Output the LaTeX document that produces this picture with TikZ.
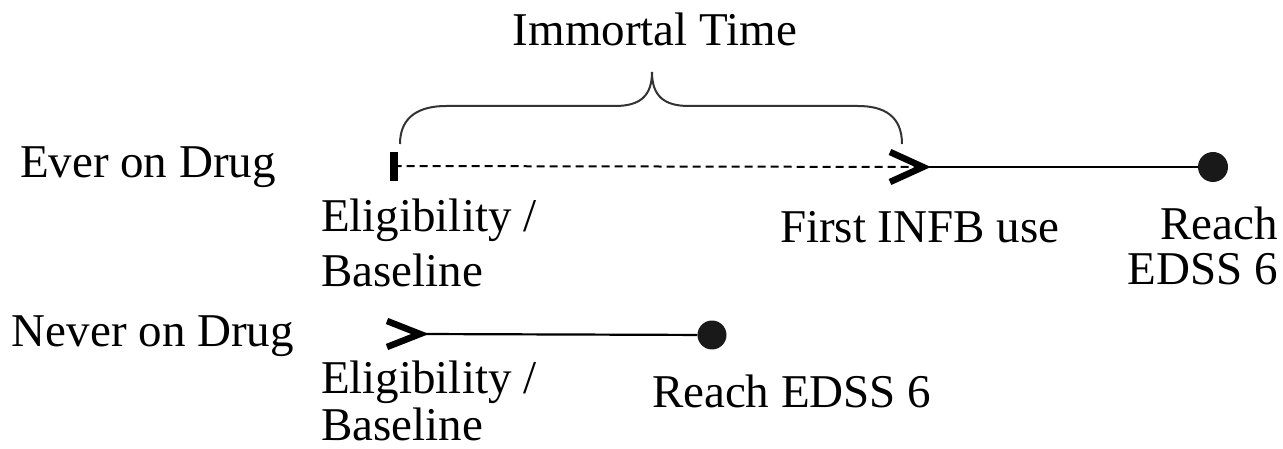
\documentclass[tikz,border=0pt]{standalone}
\usepackage{fontspec}
\setmainfont{Liberation Serif}
\usetikzlibrary{calc}
\begin{document}
\begin{tikzpicture}[x=1pt,y=-1pt,
  lbl/.style={inner sep=0pt,outer sep=0pt,font=\fontsize{47}{47}\selectfont},
  solidline/.style={line width=2.2pt,black},
  dashline/.style={line width=2pt,dash pattern=on 8pt off 5pt,black},
  chev/.style={line width=6.5pt,line join=miter,line cap=butt,black},
  endpt/.style={circle,fill=black!90,inner sep=0pt,minimum size=30pt},
  brace/.style={line width=2pt,black!80}]
\useasboundingbox (0,0) rectangle (1283,449);
% labels
\node[lbl,anchor=base] (imm) at (655,46) {Immortal Time};
\node[lbl,anchor=base west] (ever) at (20,178) {Ever on Drug};
\node[lbl,anchor=base west] (elig1) at (321,232) {Eligibility /};
\node[lbl,anchor=base west] (base1) at (321,287) {Baseline};
\node[lbl,anchor=base west] (first) at (780,243) {First INFB use};
\node[lbl,anchor=base east] (reach1) at (1278,240) {Reach};
\node[lbl,anchor=base east] (edss1) at (1278,284) {EDSS 6};
\node[lbl,anchor=base west] (never) at (12,346) {Never on Drug};
\node[lbl,anchor=base west] (elig2) at (321,393) {Eligibility /};
\node[lbl,anchor=base west] (base2) at (321,440) {Baseline};
\node[lbl,anchor=base west] (reach2) at (652,407) {Reach EDSS 6};
% upper timeline
\coordinate (t0) at (393.5,166);
\coordinate (t1) at (923,167);
\node[endpt] (t2) at (1213,167) {};
\draw[line width=8pt] ([yshift=-15pt]t0) -- ([yshift=14pt]t0);
\draw[dashline] (t0) -- (t1);
\draw[solidline] (t1) -- (t2);
\draw[chev] ([shift={(-33,-15)}]t1) -- (t1) -- ([shift={(-33,15)}]t1);
% brace
\draw[brace] (400,144) .. controls (400,116) and (420,106) .. (446,106) -- (615,106)
  .. controls (640,106) and (652,96) .. (652,72)
  .. controls (652,96) and (664,106) .. (689,106) -- (858,106)
  .. controls (884,106) and (902,116) .. (902,144);
% lower timeline
\coordinate (b0) at (420,334);
\node[endpt,minimum size=29pt] (b1) at (712,335) {};
\draw[solidline] (b0) -- (b1);
\draw[chev] ([shift={(-33,-13)}]b0) -- (b0) -- ([shift={(-33,13)}]b0);
\end{tikzpicture}
\end{document}
